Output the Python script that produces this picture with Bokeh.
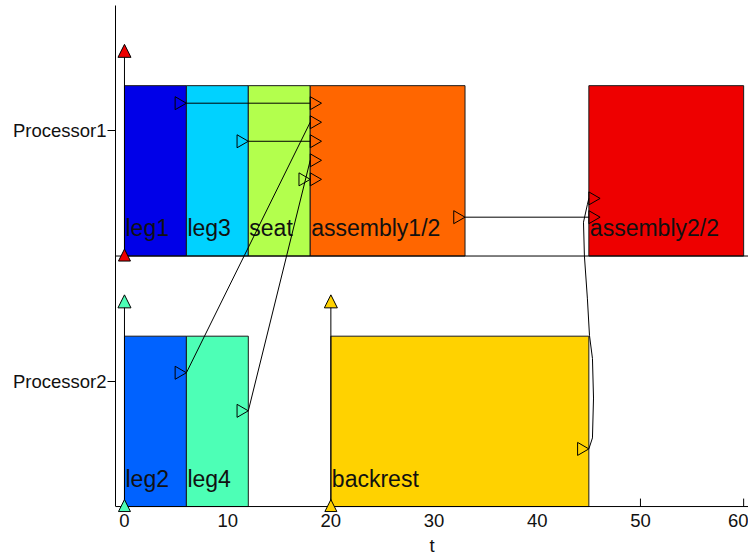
import math
from bokeh.plotting import figure
from bokeh.models import FixedTicker, Span, Arrow, NormalHead
from bokeh.embed import file_html
from bokeh.resources import INLINE
from bokeh.core.properties import value

# ---------------- data ----------------
processors = ["Processor1", "Processor2"]
proc_base = {"Processor1": 1.0, "Processor2": 0.0}

task_names = ["leg1", "leg3", "seat", "assembly1/2", "assembly2/2",
              "leg2", "leg4", "backrest"]
task_proc = ["Processor1", "Processor1", "Processor1", "Processor1", "Processor1",
             "Processor2", "Processor2", "Processor2"]
task_start = [0, 6, 12, 18, 45, 0, 6, 20]
task_end = [6, 12, 18, 33, 60, 6, 12, 45]
task_colors = ["#0000E8", "#00D2FF", "#B3FF4D", "#FF6600", "#EE0000",
               "#0062FF", "#4DFFB6", "#FFD200"]
bar_height = 0.68

# precedence links (from task end -> to task start) and their height inside the row
link_from = ["leg1", "leg2", "leg3", "leg4", "seat", "backrest", "assembly1/2"]
link_to = ["assembly1/2", "assembly1/2", "assembly1/2", "assembly1/2", "assembly1/2",
           "assembly2/2", "assembly2/2"]
link_offset = [0.61, 0.534, 0.458, 0.382, 0.306, 0.23, 0.155]

# the backrest -> assembly2/2 link is drawn as a wavy curve
curve_x = [45.0, 45.35, 45.45, 45.35, 45.06, 44.86, 44.57, 44.48, 44.86, 45.0]
curve_y = [0.23, 0.274, 0.433, 0.591, 0.683, 0.829, 1.0, 1.135, 1.206, 1.23]

# release markers
release_proc = ["Processor1", "Processor2", "Processor2"]
release_time = [0, 0, 20]
release_color = ["#EE0000", "#4DFFB6", "#FFD200"]
release_tip = 0.845

x_ticks = [0, 10, 20, 30, 40, 50, 60]
x_label = "t"

# ---------------- figure ----------------
FONT = "Liberation Sans"
x_lo, x_hi = -0.87, 60.47
frame_w = 633
py_per_unit = 252.0
below_px = 6
y_lo, y_hi = -below_px / py_per_unit, 2.0
p = figure(width=748, height=558, x_range=(x_lo, x_hi), y_range=(y_lo, y_hi),
           output_backend="svg", toolbar_location=None,
           min_border_left=115, min_border_right=0, min_border_top=5,
           min_border_bottom=43)
p.outline_line_color = None
p.grid.visible = False
p.background_fill_color = "white"

# x axis: labels from the axis, line and ticks drawn at t-axis level y=0
p.xaxis.ticker = FixedTicker(ticks=x_ticks)
p.xaxis.axis_label = x_label
p.xaxis.axis_line_color = None
p.xaxis.major_tick_line_color = None
p.xaxis.minor_tick_line_color = None
p.xaxis.major_tick_in = 0
p.xaxis.major_tick_out = 0
p.xaxis.major_label_standoff = 7 - below_px
p.xaxis.axis_label_standoff = 5
p.xaxis.axis_label_text_font_style = "normal"

ytick_pos = [proc_base[pr] + 0.5 for pr in processors]
p.yaxis.ticker = FixedTicker(ticks=ytick_pos)
p.yaxis.bounds = (0, y_hi)
p.yaxis.major_label_overrides = {pos: pr for pos, pr in zip(ytick_pos, processors)}
p.yaxis.major_tick_in = 0
p.yaxis.major_tick_out = 8
p.yaxis.minor_tick_line_color = None
p.yaxis.major_label_standoff = 1
p.yaxis.axis_line_color = "black"
p.yaxis.major_tick_line_color = "black"

for ax in (p.xaxis, p.yaxis):
    ax.major_label_text_font = FONT
    ax.major_label_text_font_size = "18.5px"
    ax.major_label_text_color = "#111111"
    ax.axis_label_text_font = FONT
    ax.axis_label_text_font_size = "18.5px"
    ax.axis_label_text_color = "#111111"

# time axis line and row separator line
p.add_layout(Span(location=0.0, dimension="width", line_color="black", line_width=1))
p.add_layout(Span(location=1.0, dimension="width", line_color="black", line_width=1))
# inward x ticks
p.segment(x0=x_ticks, y0=[0] * len(x_ticks), x1=x_ticks,
          y1=[8 / py_per_unit] * len(x_ticks), line_color="black", line_width=1)

# bars
bottoms = [proc_base[pr] for pr in task_proc]
tops = [b + bar_height for b in bottoms]
p.quad(left=task_start, right=task_end, bottom=bottoms, top=tops,
       fill_color=task_colors, line_color="#1a1a1a", line_width=1)

# task labels
p.text(x=task_start, y=[b + 0.11 for b in bottoms], text=task_names,
       x_offset=1, text_font=value(FONT), text_font_size="23px",
       text_color="#111111", text_baseline="alphabetic", text_align="left")

# links
px_per_unit = frame_w / (x_hi - x_lo)
tri_size = 13
tri_h = tri_size * math.sqrt(3) / 2
from_shift = -(2 * tri_h / 3) / px_per_unit
to_shift = (tri_h / 3) / px_per_unit

idx = {n: i for i, n in enumerate(task_names)}
fx, fy, tx, ty = [], [], [], []
for a, b, off in zip(link_from, link_to, link_offset):
    ia, ib = idx[a], idx[b]
    x0 = task_end[ia]
    y0 = proc_base[task_proc[ia]] + off
    x1 = task_start[ib]
    y1 = proc_base[task_proc[ib]] + off
    fx.append(x0); fy.append(y0); tx.append(x1); ty.append(y1)
    if a == "backrest":
        p.line(curve_x, curve_y, line_color="black", line_width=1)
    else:
        p.line([x0, x1], [y0, y1], line_color="black", line_width=1)

p.scatter(x=[v + from_shift for v in fx], y=fy, marker="triangle", size=tri_size,
          angle=-math.pi / 2, fill_color=None, line_color="black", line_width=1)
p.scatter(x=[v + to_shift for v in tx], y=ty, marker="triangle", size=tri_size,
          angle=-math.pi / 2, fill_color=None, line_color="black", line_width=1)

# release arrows
low_tip = 7 / py_per_unit
for pr, t, c in zip(release_proc, release_time, release_color):
    b = proc_base[pr]
    p.add_layout(Arrow(x_start=t, y_start=b, x_end=t, y_end=b + release_tip,
                       line_color="black", line_width=1,
                       end=NormalHead(size=13, fill_color=c, line_color="black",
                                      line_width=1)))
    p.add_layout(Arrow(x_start=t, y_start=b, x_end=t, y_end=b + low_tip,
                       line_color="black", line_width=1,
                       end=NormalHead(size=12, fill_color=c, line_color="black",
                                      line_width=1)))

open("out.html", "w").write(file_html(p, INLINE))
